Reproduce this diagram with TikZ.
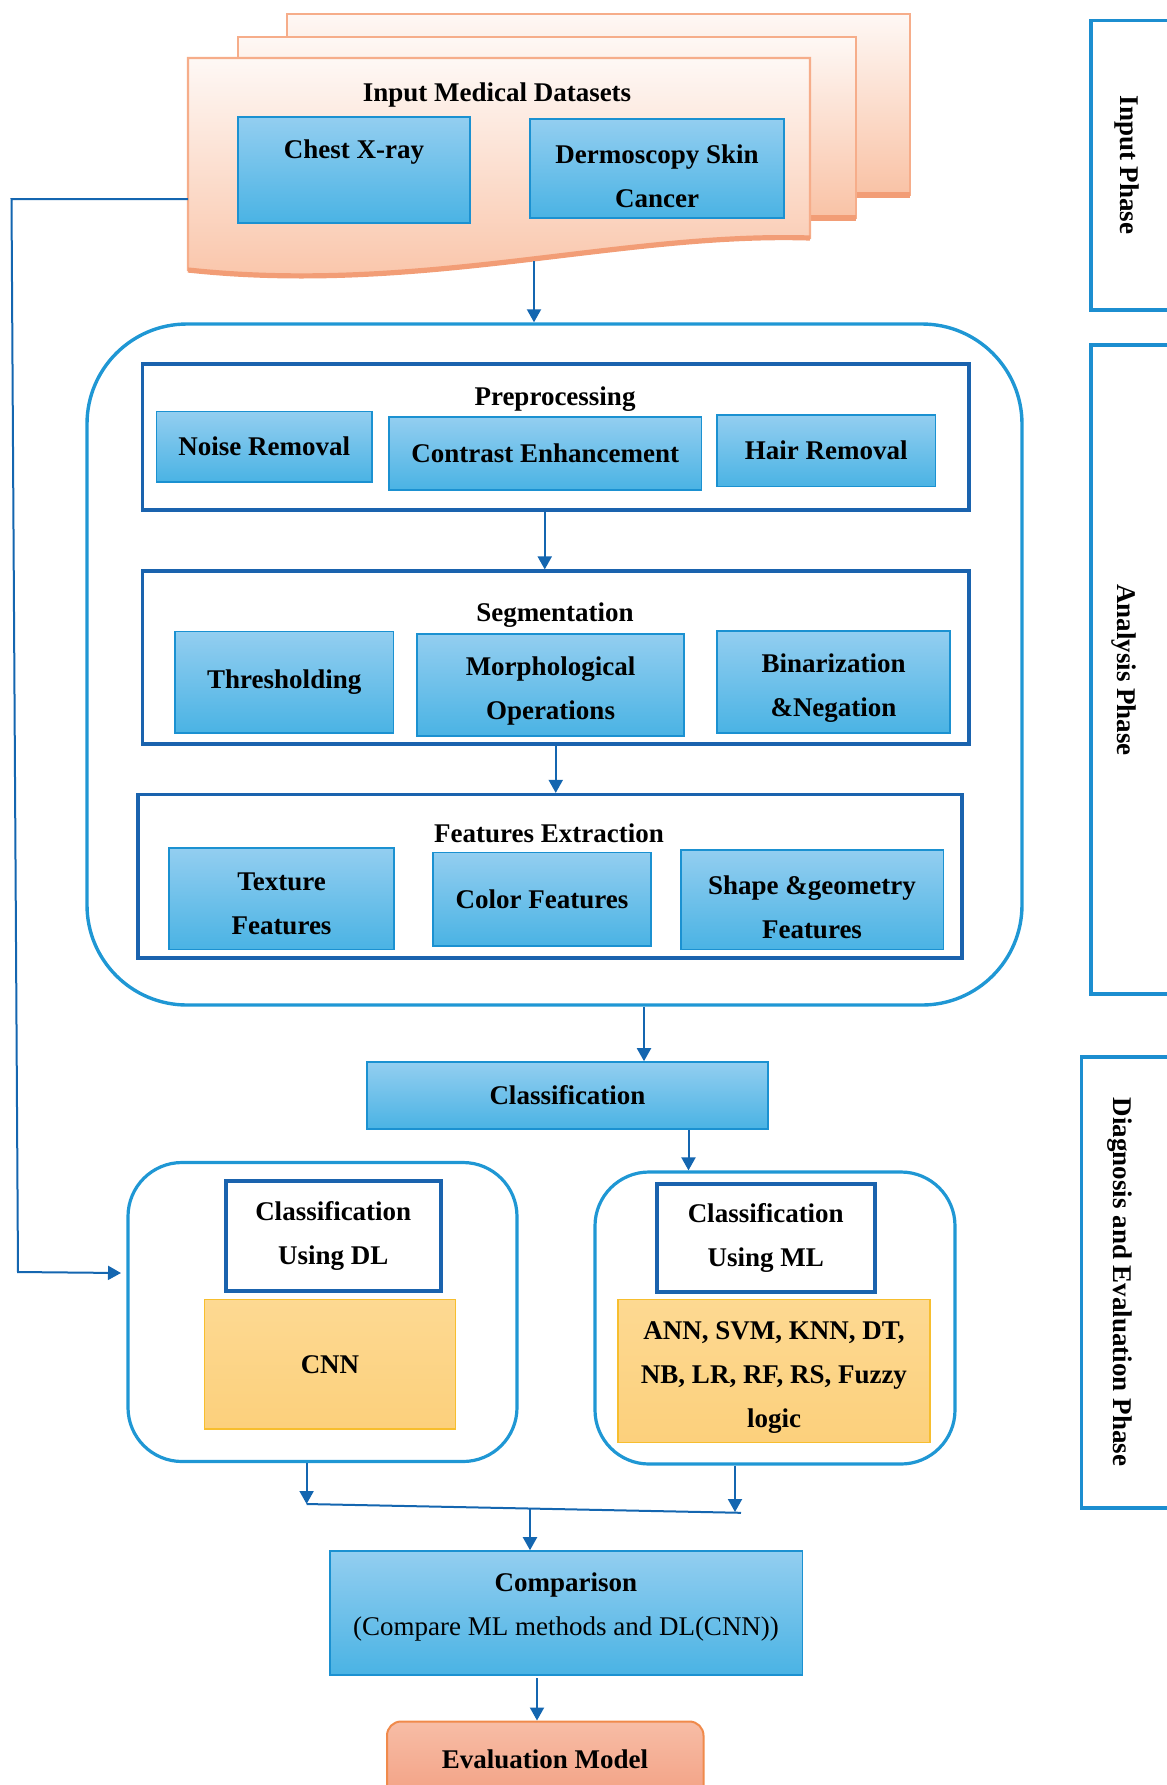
\documentclass[tikz,border=0pt]{standalone}
\usepackage{fontspec}
\setmainfont{Liberation Serif}
\usetikzlibrary{arrows.meta}

\definecolor{boxtop}{HTML}{93CEF0}
\definecolor{boxbot}{HTML}{4AB3E4}
\definecolor{boxline}{HTML}{1B91D1}
\definecolor{frameblue}{HTML}{1A63AE}
\definecolor{roundblue}{HTML}{1F97D4}
\definecolor{phaseblue}{HTML}{1C8ED0}
\definecolor{arrowblue}{HTML}{1466B0}
\definecolor{doctop}{HTML}{FEF8F5}
\definecolor{docbot}{HTML}{F9C2A5}
\definecolor{docline}{HTML}{F6AD8A}
\definecolor{docedgecol}{HTML}{F29D76}
\definecolor{algotop}{HTML}{FDD992}
\definecolor{algobot}{HTML}{FCD07C}
\definecolor{algoline}{HTML}{F7BE2E}
\definecolor{evaltop}{HTML}{F7BDA6}
\definecolor{evalbot}{HTML}{F3A083}
\definecolor{evalline}{HTML}{F08A4B}

\tikzset{
  every node/.style={inner sep=0pt, align=center, font=\fontsize{13.5}{22}\selectfont\bfseries},
  bluebox/.style={rectangle, draw=boxline, line width=0.8pt, top color=boxtop, bottom color=boxbot},
  algobox/.style={rectangle, draw=algoline, line width=0.9pt, top color=algotop, bottom color=algobot},
  headbox/.style={rectangle, draw=frameblue, line width=2pt, fill=white},
  stageframe/.style={rectangle, draw=frameblue, line width=1.6pt},
  container/.style={rectangle, rounded corners=50pt, draw=roundblue, line width=1.7pt},
  subcontainer/.style={rectangle, rounded corners=27pt, draw=roundblue, line width=1.6pt},
  evalbox/.style={rectangle, rounded corners=7pt, draw=evalline, line width=1pt, top color=evaltop, bottom color=evalbot},
  phaseline/.style={draw=phaseblue, line width=1.7pt},
  flow/.style={draw=arrowblue, line width=1pt, -{Triangle[length=6.5pt,width=7pt]}},
  joinline/.style={draw=arrowblue, line width=1pt},
  docpage/.style={draw=docline, line width=1.1pt, top color=doctop, bottom color=docbot},
  docedge/.style={draw=docedgecol, line width=2.6pt},
}

% box from its corners (x1,y1)-(x2,y2), in picture units
\newcommand{\mkbox}[7]{%
  \node[#1, minimum width={(#5-#3)*0.5pt}, minimum height={(#6-#4)*0.5pt}]
    (#2) at ({(#3+#5)/2},{(#4+#6)/2}) {#7};}

\begin{document}
\begin{tikzpicture}[x=0.5pt,y=-0.5pt]
\useasboundingbox (0,0) rectangle (1167,1785);

% ---------- stacked input documents ----------
\path[docpage] (287,14) rectangle (910,195);
\draw[docedge] (287,195) -- (910,195);
\path[docpage] (238,37) rectangle (856,218);
\draw[docedge] (238,218) -- (856,218);
\path[docpage] (188,58) -- (810,58) -- (810,238)
  .. controls (620,232) and (420,295) .. (188,270) -- cycle;
\draw[docedge] (810,238) .. controls (620,232) and (420,295) .. (188,270);

\node (dstitle) at (497,95) {Input Medical Datasets};
\mkbox{bluebox}{chest}{238}{117}{470}{223}{}
\node (chesttxt) at (354,152) {Chest X-ray};
\mkbox{bluebox}{derm}{530}{119}{784}{218}{}
\node (dermtxt) at (657,176) {Dermoscopy Skin\\Cancer};

\coordinate (docout) at (534,261);
\coordinate (fbstart) at (188,199);

% ---------- analysis container ----------
\mkbox{container}{big}{87}{324}{1022}{1005}{}

\mkbox{stageframe}{prep}{142.5}{364}{969}{510}{}
\node (preptitle) at (555,399) {Preprocessing};
\mkbox{bluebox}{noise}{156.5}{411.5}{372}{482}{Noise Removal}
\mkbox{bluebox}{contrast}{389}{417}{701.5}{490}{Contrast Enhancement}
\mkbox{bluebox}{hair}{717}{415}{935.5}{486.5}{Hair Removal}

\mkbox{stageframe}{seg}{142.5}{571}{969}{744}{}
\node (segtitle) at (555,615) {Segmentation};
\mkbox{bluebox}{thresh}{175}{631.5}{393.5}{733}{Thresholding}
\mkbox{bluebox}{morph}{417}{634}{684}{736}{}
\node (morphtxt) at (550.5,691) {Morphological\\Operations};
\mkbox{bluebox}{binar}{717}{631}{950}{733}{}
\node (binartxt) at (833.5,688) {Binarization\\\&Negation};

\mkbox{stageframe}{feat}{138}{794.5}{962}{958}{}
\node (feattitle) at (549,833) {Features Extraction};
\mkbox{bluebox}{texture}{169}{848}{394}{949.5}{}
\node (texturetxt) at (281.5,904) {Texture\\Features};
\mkbox{bluebox}{color}{433}{852.5}{651}{946}{Color Features}
\mkbox{bluebox}{shape}{681}{850}{943.5}{949.5}{}
\node (shapetxt) at (812,907) {Shape \&geometry\\Features};

% ---------- diagnosis ----------
\mkbox{bluebox}{cls}{367}{1062}{768}{1129}{Classification}

\mkbox{subcontainer}{dl}{128}{1162.5}{517}{1461.5}{}
\mkbox{headbox}{dlhead}{225.5}{1181}{441}{1291}{Classification\\Using DL}
\mkbox{algobox}{cnn}{204.5}{1299.5}{455.5}{1429}{CNN}

\mkbox{subcontainer}{ml}{595}{1172}{955}{1464}{}
\mkbox{headbox}{mlhead}{657}{1183.5}{874.5}{1291.5}{Classification\\Using ML}
\mkbox{algobox}{mlalgo}{618}{1299.5}{930}{1442.5}{}
\node (mlalgotxt) at (774,1378) {ANN, SVM, KNN, DT,\\NB, LR, RF, RS, Fuzzy\\logic};

\mkbox{bluebox}{cmp}{330}{1551}{802.5}{1675}{}
\node (cmptxt) at (566,1607) {Comparison\\\mdseries(Compare ML methods and DL(CNN))};

\mkbox{evalbox}{eval}{387}{1721.5}{703.5}{1800}{}
\node (evaltxt) at (545,1759) {Evaluation Model};

% ---------- phase labels ----------
\draw[phaseline] (1185,20.5) -- (1091,20.5) -- (1091,310) -- (1185,310);
\node[rotate=-90] (ph1) at (1127,165) {Input Phase};
\draw[phaseline] (1185,345) -- (1091,345) -- (1091,994) -- (1185,994);
\node[rotate=-90] (ph2) at (1124,670) {Analysis Phase};
\draw[phaseline] (1185,1057) -- (1081.5,1057) -- (1081.5,1508) -- (1185,1508);
\node[rotate=-90] (ph3) at (1120,1282) {Diagnosis and Evaluation Phase};

% ---------- connectors ----------
\draw[flow] (docout) -- (docout |- big.north);
\coordinate (p2s) at ([xshift=-5.5pt]prep.south);
\draw[flow] (p2s) -- (p2s |- seg.north);
\draw[flow] (seg.south) -- (seg.south |- feat.north);
\coordinate (b2c) at ([xshift=44.75pt]big.south);
\draw[flow] (b2c) -- (b2c |- cls.north);
\coordinate (c2m) at ([xshift=60.5pt]cls.south);
\draw[flow] (c2m) -- (c2m |- ml.north);

\coordinate (dlin) at (121,1273);
\draw[flow] (fbstart) -- (11.5,199) -- (18,1272) -- (dlin);

\coordinate (dlj) at (306.6,1504);
\coordinate (mlj) at (735,1512);
\coordinate (joinend) at (741,1512.8);
\draw[flow] (dlj |- dl.south) -- (dlj);
\draw[flow] (mlj |- ml.south) -- (mlj);
\draw[joinline] (dlj) -- (joinend);
\coordinate (cj) at (530,1509);
\draw[flow] (cj) -- (cj |- cmp.north);
\coordinate (ce) at (537,1678);
\draw[flow] (ce) -- (ce |- eval.north);
\end{tikzpicture}
\end{document}
